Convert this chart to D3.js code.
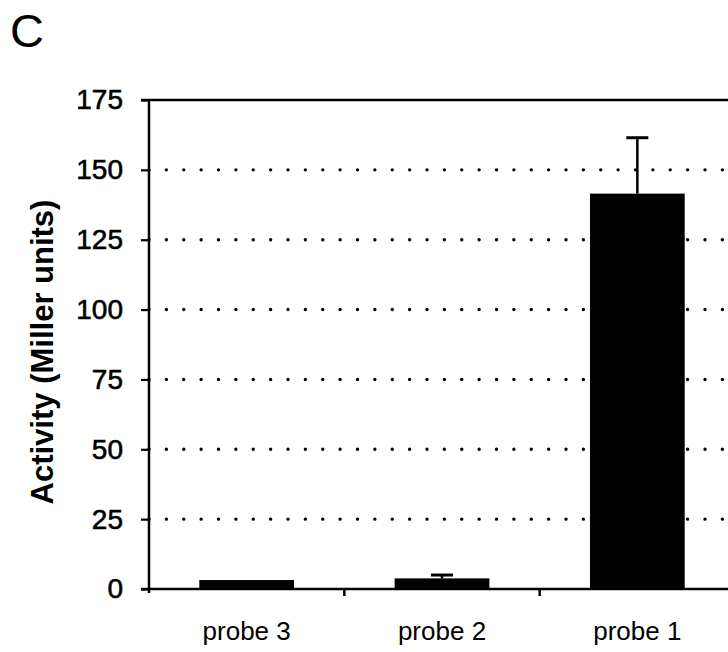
<!DOCTYPE html>
<html>
<head>
<meta charset="utf-8">
<script src="https://cdn.jsdelivr.net/npm/d3@7"></script>
<style>
  body { margin: 0; background: #fff; }
  svg { display: block; font-family: 'Liberation Sans', Arial, sans-serif; }
  .axis path, .axis line { stroke: #000; }
</style>
</head>
<body>
<svg id="chart"></svg>
<script>
// data
const probes = ['probe 3', 'probe 2', 'probe 1'];
const activity = [3.2, 3.8, 141.5];
const errors = [0, 1.2, 20];
const yTicks = [0, 25, 50, 75, 100, 125, 150, 175];
const gridValues = [25, 50, 75, 100, 125, 150];

class BarChart {

  constructor(_config) {
    this.config = {
      parentElement: _config.parentElement,
      containerWidth: _config.containerWidth || 728,
      containerHeight: _config.containerHeight || 652,
      margin: _config.margin || {top: 100, right: -7, bottom: 63, left: 149},
      padding: 0.515
    };
    this.initVis();
  }

  initVis() {
    let vis = this;

    vis.width = vis.config.containerWidth - vis.config.margin.left - vis.config.margin.right;
    vis.height = vis.config.containerHeight - vis.config.margin.top - vis.config.margin.bottom;

    vis.svg = d3.select(vis.config.parentElement)
        .attr('width', vis.config.containerWidth)
        .attr('height', vis.config.containerHeight);

    vis.chart = vis.svg.append('g')
        .attr('transform', `translate(${vis.config.margin.left},${vis.config.margin.top})`);

    vis.xScale = d3.scaleBand()
        .domain(probes)
        .range([0, vis.width])
        .paddingInner(vis.config.padding)
        .paddingOuter(vis.config.padding / 2);

    vis.yScale = d3.scaleLinear()
        .domain([0, 175])
        .range([vis.height, 0]);

    // panel label
    vis.svg.append('text')
        .attr('x', 10)
        .attr('y', 47)
        .attr('font-size', 47)
        .text('C');

    // y-axis title
    vis.svg.append('text')
        .attr('transform', `translate(53,352) rotate(-90)`)
        .attr('text-anchor', 'middle')
        .attr('font-size', 31)
        .attr('font-weight', 'bold')
        .text('Activity (Miller units)');
  }

  updateVis() {
    let vis = this;

    // dotted gridlines
    vis.chart.selectAll('.grid')
      .data(gridValues)
      .join('line')
        .attr('class', 'grid')
        .attr('x1', 0)
        .attr('x2', vis.width)
        .attr('y1', d => vis.yScale(d))
        .attr('y2', d => vis.yScale(d))
        .attr('stroke', '#000')
        .attr('stroke-width', 3.4)
        .attr('stroke-linecap', 'round')
        .attr('stroke-dasharray', '0,17.375');

    // bars
    vis.chart.selectAll('.bar')
      .data(probes)
      .join('rect')
        .attr('class', 'bar')
        .attr('x', d => vis.xScale(d))
        .attr('width', vis.xScale.bandwidth())
        .attr('y', (d, i) => vis.yScale(activity[i]))
        .attr('height', (d, i) => vis.height - vis.yScale(activity[i]))
        .attr('fill', '#000');

    // upper error bars (only where there is an error)
    const errData = probes.map((p, i) => ({p, v: activity[i], e: errors[i]})).filter(d => d.e > 0);

    const errG = vis.chart.selectAll('.err')
      .data(errData)
      .join('g')
        .attr('class', 'err')
        .attr('transform', d => `translate(${vis.xScale(d.p) + vis.xScale.bandwidth() / 2},0)`);

    errG.append('line')
        .attr('y1', d => vis.yScale(d.v))
        .attr('y2', d => vis.yScale(d.v + d.e))
        .attr('stroke', '#000')
        .attr('stroke-width', 2.5);

    errG.append('line')
        .attr('x1', -11)
        .attr('x2', 11)
        .attr('y1', d => vis.yScale(d.v + d.e))
        .attr('y2', d => vis.yScale(d.v + d.e))
        .attr('stroke', '#000')
        .attr('stroke-width', 3);

    // frame top
    vis.chart.append('line')
        .attr('x1', -8)
        .attr('x2', vis.width)
        .attr('y1', 0)
        .attr('y2', 0)
        .attr('stroke', '#000')
        .attr('stroke-width', 2.5);

    // y axis
    const yAxis = d3.axisLeft(vis.yScale)
        .tickValues(yTicks)
        .tickSize(8)
        .tickPadding(18)
        .tickSizeOuter(0);

    vis.chart.append('g')
        .attr('class', 'axis y-axis')
        .call(yAxis)
        .call(g => g.select('.domain').attr('stroke-width', 2.5).attr('d', `M0,0V${vis.height + 4}`))
        .call(g => g.selectAll('.tick line').attr('stroke-width', 2.2))
        .call(g => g.selectAll('.tick text')
            .attr('font-size', 28)
            .attr('font-family', "'Liberation Sans', Arial, sans-serif")
            .attr('fill', '#000')
            .attr('stroke', '#000')
            .attr('stroke-width', 0.6));

    // x axis: ticks between categories
    const xAxisG = vis.chart.append('g')
        .attr('class', 'axis x-axis')
        .attr('transform', `translate(0,${vis.height})`);

    xAxisG.append('line')
        .attr('x1', -8)
        .attr('x2', vis.width)
        .attr('stroke', '#000')
        .attr('stroke-width', 2.5);

    const gap = vis.xScale.step() * vis.config.padding / 2;
    xAxisG.selectAll('.sep')
      .data(probes.slice(1))
      .join('line')
        .attr('class', 'sep')
        .attr('x1', d => vis.xScale(d) - gap)
        .attr('x2', d => vis.xScale(d) - gap)
        .attr('y1', 0)
        .attr('y2', 7)
        .attr('stroke', '#000')
        .attr('stroke-width', 2.5);

    xAxisG.selectAll('.label')
      .data(probes)
      .join('text')
        .attr('class', 'label')
        .attr('x', d => vis.xScale(d) + vis.xScale.bandwidth() / 2)
        .attr('y', 51)
        .attr('text-anchor', 'middle')
        .attr('font-size', 26)
        .text(d => d);
  }
}

const chart = new BarChart({parentElement: '#chart'});
chart.updateVis();
</script>
</body>
</html>
